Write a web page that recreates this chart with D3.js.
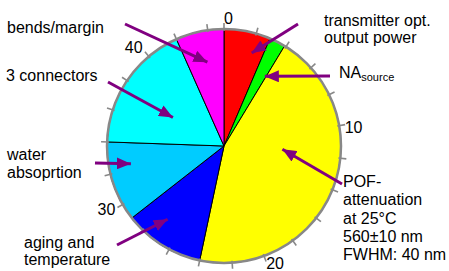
<!DOCTYPE html>
<html>
<head>
<meta charset="utf-8">
<script src="https://cdn.jsdelivr.net/npm/d3@7"></script>
<style>
  html, body { margin: 0; padding: 0; background: #ffffff; }
  svg { display: block; }
  text { font-family: "Liberation Sans", Arial, sans-serif; fill: #000; }
</style>
</head>
<body>
<svg id="chart" width="449" height="271"></svg>
<script>
// ---- data ----
const categories = ["transmitter opt. output power", "NA source", "POF-attenuation", "aging and temperature", "water absorption", "3 connectors", "bends/margin"];
const values = [2.9, 1.0, 20.1, 5, 5, 8, 3];
const colors = ["#ff0000", "#00ff00", "#ffff00", "#0000ff", "#00ccff", "#00ffff", "#ff00ff"];
const scaleMax = 45;
const tickValues = d3.range(0, 45, 2);
const tickLabels = [0, 10, 20, 30, 40];
// arrow tip position: [scale value, radius fraction]
const arrowTips = [[2.07, 0.83], [3.8, 0.69], [11.65, 0.5], [27.2, 0.79], [32.4, 0.81], [37.4, 0.5], [43.6, 0.73]];
// arrow tails (label side)
const arrowTails = [[298, 24], [330, 76], [342, 184], [117, 245], [95, 163], [108, 82], [125, 24]];
// label text lines
const labelLines = [
  {lines: ["transmitter opt.", "output power"], x: 324, y: 26, lh: 17},
  {lines: ["NA"], sub: "source", x: 339, y: 78, lh: 17},
  {lines: ["POF-", "attenuation", "at 25°C", "560±10 nm", "FWHM: 40 nm"], x: 343, y: 187, lh: 18.3},
  {lines: ["aging and", "temperature"], x: 24, y: 248, lh: 16.5},
  {lines: ["water", "absoprtion"], x: 7, y: 160, lh: 18},
  {lines: ["3 connectors"], x: 6, y: 81, lh: 17},
  {lines: ["bends/margin"], x: 7, y: 33, lh: 17}
];

// ---- layout ----
const cx = 224, cy = 146, R = 117;
const svg = d3.select("#chart");
const g = svg.append("g").attr("transform", `translate(${cx},${cy})`);
const ang = d3.scaleLinear().domain([0, scaleMax]).range([0, 2 * Math.PI]);

const pie = d3.pie().sort(null).value(d => d).startAngle(0).endAngle(ang(d3.sum(values)));
const arc = d3.arc().innerRadius(0).outerRadius(R);

g.selectAll("path.slice")
  .data(pie(values))
  .join("path")
  .attr("class", "slice")
  .attr("d", arc)
  .attr("fill", (d, i) => colors[i])
  .attr("stroke", "#000")
  .attr("stroke-width", 1)
  .attr("stroke-linejoin", "round");

// outer circle
g.append("circle").attr("r", R).attr("fill", "none").attr("stroke", "#888888").attr("stroke-width", 2.5);

// ticks
g.selectAll("line.tick")
  .data(tickValues)
  .join("line")
  .attr("class", "tick")
  .attr("x1", d => (R - 2) * Math.sin(ang(d)))
  .attr("y1", d => -(R - 2) * Math.cos(ang(d)))
  .attr("x2", d => (R + 6) * Math.sin(ang(d)))
  .attr("y2", d => -(R + 6) * Math.cos(ang(d)))
  .attr("stroke", "#888888")
  .attr("stroke-width", 1.6);

// tick labels
g.selectAll("text.tl")
  .data(tickLabels)
  .join("text")
  .attr("class", "tl")
  .attr("font-size", 16)
  .each(function(d) {
    const a = ang(d), s = Math.sin(a), c = Math.cos(a);
    const x = (R + 5) * s, y = -(R + 5) * c;
    let anchor = "start", xx = x;
    if (s > 0.1) { anchor = "start"; xx = x + 0.5; }
    else if (s < -0.1) { anchor = "end"; xx = x - 3; }
    const yy = c > 0.5 ? y : y + 8;
    d3.select(this).attr("x", xx).attr("y", yy).attr("text-anchor", anchor);
  })
  .text(d => d);

// arrow marker
const defs = svg.append("defs");
defs.append("marker")
  .attr("id", "ah")
  .attr("viewBox", "0 -6 14 12")
  .attr("refX", 14).attr("refY", 0)
  .attr("markerWidth", 14).attr("markerHeight", 12)
  .attr("markerUnits", "userSpaceOnUse")
  .attr("orient", "auto")
  .append("path")
  .attr("d", "M0,-6L14,0L0,6Z")
  .attr("fill", "#800080");

const arrows = arrowTips.map((t, i) => {
  const a = ang(t[0]), r = t[1] * R;
  const tip = [cx + r * Math.sin(a), cy - r * Math.cos(a)];
  return {tail: arrowTails[i], tip};
});
svg.selectAll("line.arrow")
  .data(arrows)
  .join("line")
  .attr("class", "arrow")
  .attr("x1", d => d.tail[0]).attr("y1", d => d.tail[1])
  .attr("x2", d => {
    const dx = d.tip[0] - d.tail[0], dy = d.tip[1] - d.tail[1], L = Math.hypot(dx, dy);
    return d.tip[0] - dx / L * 0.01;
  })
  .attr("y2", d => {
    const dx = d.tip[0] - d.tail[0], dy = d.tip[1] - d.tail[1], L = Math.hypot(dx, dy);
    return d.tip[1] - dy / L * 0.01;
  })
  .attr("stroke", "#800080")
  .attr("stroke-width", 3)
  .attr("marker-end", "url(#ah)");

// labels
labelLines.forEach(lb => {
  lb.lines.forEach((ln, j) => {
    const t = svg.append("text")
      .attr("x", lb.x)
      .attr("y", lb.y + j * lb.lh)
      .attr("font-size", 16)
      .text(ln);
    if (lb.sub && j === lb.lines.length - 1) {
      t.append("tspan").attr("font-size", 11).attr("dy", 3).text(lb.sub);
    }
  });
});
</script>
</body>
</html>
